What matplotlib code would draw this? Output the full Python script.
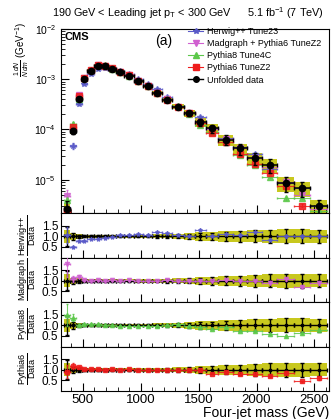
import matplotlib
matplotlib.use('Agg')
import matplotlib.pyplot as plt
from matplotlib.lines import Line2D
from matplotlib.ticker import LogLocator, MultipleLocator, NullFormatter, FormatStrFormatter
import numpy as np

plt.rcParams['font.family'] = ['Liberation Sans', 'DejaVu Sans']
plt.rcParams['mathtext.fontset'] = 'custom'
plt.rcParams['mathtext.rm'] = 'Liberation Sans'
plt.rcParams['mathtext.it'] = 'Liberation Sans:italic'
plt.rcParams['mathtext.bf'] = 'Liberation Sans:bold'

# four-jet mass bins (GeV)
bin_edges = [340, 390, 440, 490, 540, 600, 660, 720, 790, 860, 940, 1020, 1100,
             1180, 1270, 1370, 1470, 1560, 1670, 1800, 1920, 2050, 2180, 2320, 2460, 2610]

# unfolded data, 1/N dN/dm (GeV^-1)
data = [2.6e-6, 9.5e-5, 4.1e-4, 1.02e-3, 1.47e-3, 1.85e-3, 1.85e-3, 1.6e-3, 1.41e-3,
        1.17e-3, 9.3e-4, 7.4e-4, 5.4e-4, 3.9e-4, 2.85e-4, 2.1e-4, 1.38e-4, 1.05e-4,
        6.3e-5, 4.2e-5, 2.7e-5, 1.95e-5, 8.5e-6, 6.8e-6, 3.0e-6]
# relative uncertainties of the data (black bars, yellow band)
data_err = [0.45, 0.15, 0.08, 0.05, 0.04, 0.04, 0.04, 0.04, 0.04, 0.05, 0.05, 0.05, 0.06,
            0.08, 0.1, 0.12, 0.15, 0.18, 0.22, 0.25, 0.28, 0.3, 0.33, 0.33, 0.3]
band = [0.3, 0.15, 0.12, 0.08, 0.07, 0.07, 0.07, 0.07, 0.07, 0.07, 0.08, 0.08, 0.09,
        0.1, 0.12, 0.15, 0.2, 0.2, 0.25, 0.25, 0.28, 0.3, 0.33, 0.33, 0.3]

# MC / data ratios
ratio_herwig = [1.05, 0.5, 0.78, 0.8, 0.87, 0.88, 0.9, 0.97, 1.05, 1.08, 1.1, 1.08, 1.2,
                1.15, 1.05, 1.0, 1.3, 1.0, 1.1, 1.05, 1.2, 0.85, 1.0, 1.0, 1.0]
ratio_madgraph = [1.8, 1.1, 1.2, 1.02, 1.0, 1.02, 1.0, 1.02, 1.0, 1.02, 1.0, 0.98, 0.98,
                  1.02, 0.98, 1.0, 1.0, 0.97, 1.05, 1.0, 1.0, 0.92, 1.07, 0.72, 0.88]
ratio_pythia8 = [1.5, 1.35, 1.0, 1.05, 1.05, 1.05, 1.03, 1.0, 0.98, 0.97, 0.98, 0.97, 0.98,
                 1.03, 1.05, 0.98, 0.9, 0.85, 0.9, 0.75, 0.72, 0.58, 0.5, 0.65, 0.8]
ratio_pythia6 = [0.92, 1.2, 1.13, 1.02, 1.05, 1.02, 1.0, 1.03, 1.0, 1.02, 0.98, 0.98, 1.0,
                 1.0, 0.98, 1.0, 0.97, 0.82, 0.9, 0.78, 0.78, 0.7, 0.87, 0.45, 0.6]
mc_err = [0.35, 0.12, 0.05, 0.02, 0.02, 0.02, 0.02, 0.02, 0.02, 0.02, 0.02, 0.02, 0.02,
          0.02, 0.03, 0.03, 0.03, 0.04, 0.04, 0.05, 0.05, 0.06, 0.07, 0.08, 0.1]

mc_names = ['Herwig++ Tune23', 'Madgraph + Pythia6 TuneZ2', 'Pythia8 Tune4C', 'Pythia6 TuneZ2']
mc_short = [r'$\dfrac{\mathrm{Herwig{+}{+}}}{\mathrm{Data}}$', r'$\dfrac{\mathrm{Madgraph}}{\mathrm{Data}}$',
            r'$\dfrac{\mathrm{Pythia8}}{\mathrm{Data}}$', r'$\dfrac{\mathrm{Pythia6}}{\mathrm{Data}}$']
mc_ratios = [ratio_herwig, ratio_madgraph, ratio_pythia8, ratio_pythia6]
mc_colors = ['#5a5ac8', '#d060d0', '#5cc84a', '#ee1c1c']
mc_markers = ['*', 'v', '^', 's']
yellow = '#c8c81e'

edges = np.array(bin_edges, dtype=float)
centers = 0.5 * (edges[1:] + edges[:-1])
half = 0.5 * np.diff(edges)
data = np.array(data)
data_err = np.array(data_err)
band = np.array(band)
mc_err = np.array(mc_err)

fig = plt.figure(figsize=(3.35, 4.19), dpi=100)
left, width = 0.182, 0.8
ax = fig.add_axes([left, 0.492, width, 0.439])
ratio_axes = [fig.add_axes([left, b, width, 0.1062], sharex=ax)
              for b in [0.3854, 0.2792, 0.1730, 0.0668]]

# main panel
ax.bar(centers, 2 * band * data, bottom=data * (1 - band), width=2 * half,
       color=yellow, zorder=1)
for r, c, m in zip(mc_ratios, mc_colors, mc_markers):
    vals = data * np.array(r)
    ax.errorbar(centers, vals, yerr=vals * mc_err, xerr=half, fmt=m, color=c,
                ms=5 if m != '*' else 4, lw=0.8, capsize=1, alpha=0.85, zorder=2)
ax.errorbar(centers, data, yerr=data * data_err, xerr=half, fmt='o', color='k',
            ms=4.5, lw=1.1, capsize=1.5, zorder=3)
ax.set_yscale('log')
ax.set_ylim(2.2e-6, 1e-2)
ax.set_xlim(312, 2625)
ax.yaxis.set_major_locator(LogLocator(base=10))
ax.yaxis.set_minor_locator(LogLocator(base=10, subs=np.arange(2, 10)))
ax.yaxis.set_minor_formatter(NullFormatter())
ax.xaxis.set_major_locator(MultipleLocator(500))
ax.xaxis.set_minor_locator(MultipleLocator(100))
ax.tick_params(which='both', direction='in', labelsize=7.5, top=False, right=False)
ax.tick_params(which='major', length=6)
ax.tick_params(which='minor', length=3)
ax.tick_params(axis='x', labelbottom=False)
ax.set_ylabel(r'$\frac{1}{N}\frac{dN}{dm}$ (GeV$^{-1}$)', fontsize=7, loc='top', labelpad=1)

ax.text(0.015, 0.985, 'CMS', transform=ax.transAxes, fontsize=8, fontweight='bold',
        va='top', ha='left')
ax.text(0.35, 0.975, '(a)', transform=ax.transAxes, fontsize=10, va='top', ha='left')

handles = [Line2D([0], [0], color=c, marker=m, ms=4, lw=0.8)
           for c, m in zip(mc_colors, mc_markers)]
handles.append(Line2D([0], [0], color='k', marker='o', ms=4, lw=1))
ax.legend(handles, mc_names + ['Unfolded data'], loc='upper left',
          bbox_to_anchor=(0.46, 1.03), frameon=False, fontsize=6.5,
          handlelength=1.7, handletextpad=0.4, labelspacing=0.35, borderaxespad=0)

fig.text(0.155, 0.968, r'190 GeV < Leading jet p$_\mathrm{T}$ < 300 GeV', fontsize=7.8,
         ha='left', va='center')
fig.text(0.968, 0.968, r'5.1 fb$^{-1}$ (7 TeV)', fontsize=7.8, ha='right', va='center')

# ratio panels
for rax, r, c, m, name in zip(ratio_axes, mc_ratios, mc_colors, mc_markers, mc_short):
    r = np.array(r)
    rax.bar(centers, 2 * band, bottom=1 - band, width=2 * half, color=yellow, zorder=1)
    rax.errorbar(centers, np.ones_like(centers), yerr=data_err, xerr=half, fmt='s',
                 color='k', ms=2, lw=1.0, capsize=1.5, zorder=2)
    rax.errorbar(centers, r, yerr=r * mc_err, xerr=half, fmt=m, color=c,
                 ms=3, lw=0.8, capsize=1, alpha=0.85, zorder=3)
    rax.set_ylim(0, 2.1)
    rax.set_yticks([0.5, 1.0, 1.5])
    rax.yaxis.set_major_formatter(FormatStrFormatter('%.1f'))
    rax.tick_params(which='both', direction='in', labelsize=8.5, top=False, right=False, pad=2)
    rax.tick_params(which='major', length=6)
    rax.tick_params(which='minor', length=3)
    rax.tick_params(axis='x', labelbottom=False)
    rax.set_ylabel(name, fontsize=6.6, labelpad=2)

ratio_axes[-1].tick_params(axis='x', labelbottom=True, labelsize=9.5, pad=2)
ratio_axes[-1].set_xlabel('Four-jet mass (GeV)', fontsize=10, loc='right', labelpad=0)

for a in ratio_axes:
    a.yaxis.set_label_coords(-0.085, 0.5)
ax.yaxis.set_label_coords(-0.11, 1.04)

fig.savefig('out.png', dpi=100)
